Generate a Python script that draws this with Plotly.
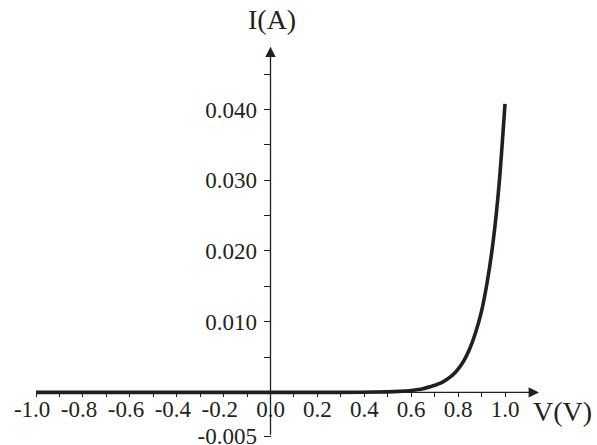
import plotly.graph_objects as go

# ---- data ----
voltage = [-1.0, -0.5, 0.0, 0.3, 0.5, 0.55, 0.6, 0.65, 0.7, 0.725, 0.75, 0.775,
           0.8, 0.825, 0.85, 0.875, 0.9, 0.925, 0.95, 0.975, 1.0]
current = [0.0, 0.0, 0.0, 0.00001, 0.00008, 0.00015, 0.00028, 0.00052, 0.0010,
           0.0013, 0.0018, 0.0024, 0.0033, 0.0045, 0.0062, 0.0085, 0.0115,
           0.0158, 0.0215, 0.0295, 0.0408]

x_tick_vals = [round(-1.0 + 0.1 * i, 1) for i in range(21)]
x_tick_labels = ["-1.0", "-0.8", "-0.6", "-0.4", "-0.2", "0.0", "0.2", "0.4", "0.6", "0.8", "1.0"]

y_low = -0.0062  # bottom end of the drawn I axis (labelled -0.005 in the source)
y_tick_vals = [y_low, 0.005, 0.010, 0.015, 0.020, 0.025, 0.030, 0.035, 0.040, 0.045]
y_tick_text = ["-0.005", "", "0.010", "", "0.020", "", "0.030", "", "0.040", ""]

x_axis_end = 1.145
y_axis_end = 0.0489

x_range = [-1.1535, 1.3923]
y_range = [-0.00744, 0.05550]

ink = "#231f20"
font_family = "Liberation Serif"

# negative labels: number centred on the tick, minus sign hanging left
x_tick_text = []
label_iter = iter(x_tick_labels)
for i in range(len(x_tick_vals)):
    if i % 2 == 0:
        lab = next(label_iter)
        x_tick_text.append(lab + "\u2004" if lab.startswith("-") else lab)
    else:
        x_tick_text.append("")

fig = go.Figure()
fig.add_trace(go.Scatter(
    x=voltage, y=current, mode="lines",
    line=dict(color=ink, width=3.6, shape="spline", smoothing=0.8),
    hoverinfo="skip", showlegend=False,
))

xpos = (0 - y_range[0]) / (y_range[1] - y_range[0])
ypos = (0 - x_range[0]) / (x_range[1] - x_range[0])

fig.update_layout(
    width=597, height=445,
    margin=dict(l=0, r=0, t=0, b=0, pad=0),
    paper_bgcolor="white", plot_bgcolor="white",
    font=dict(family=font_family, color=ink, size=23),
    showlegend=False,
    xaxis=dict(
        range=x_range, anchor="free", position=xpos,
        showgrid=False, zeroline=False, showline=False,
        tickmode="array", tickvals=x_tick_vals, ticktext=x_tick_text,
        ticks="outside", ticklen=4, tickwidth=1, tickcolor=ink,
        ticklabelstandoff=-8, ticklabeloverflow="allow",
        tickfont=dict(family=font_family, size=23, color=ink),
        automargin=False,
    ),
    yaxis=dict(
        range=y_range, anchor="free", position=ypos,
        showgrid=False, zeroline=False, showline=False,
        tickmode="array", tickvals=y_tick_vals, ticktext=y_tick_text,
        ticks="outside", ticklen=7, tickwidth=1, tickcolor=ink,
        ticklabelstandoff=2, ticklabeloverflow="allow",
        tickfont=dict(family=font_family, size=23, color=ink),
        automargin=False,
    ),
)

# axis lines with arrow heads
fig.add_annotation(x=x_axis_end, y=0, ax=-1.0, ay=0, xref="x", yref="y",
                   axref="x", ayref="y", text="", showarrow=True,
                   arrowhead=2, arrowsize=1.6, arrowwidth=1.3, arrowcolor=ink)
fig.add_annotation(x=0, y=y_axis_end, ax=0, ay=y_low, xref="x", yref="y",
                   axref="x", ayref="y", text="", showarrow=True,
                   arrowhead=2, arrowsize=1.6, arrowwidth=1.3, arrowcolor=ink)

# axis titles
fig.add_annotation(x=0.006, y=0.0527, xref="x", yref="y", text="I(A)",
                   showarrow=False, font=dict(family=font_family, size=28, color=ink))
fig.add_annotation(x=1.247, y=-0.0027, xref="x", yref="y", text="V(V)",
                   showarrow=False, font=dict(family=font_family, size=28, color=ink))

fig.write_html("out.html", config={"displayModeBar": False},
               post_script="document.body.style.margin='0';")
